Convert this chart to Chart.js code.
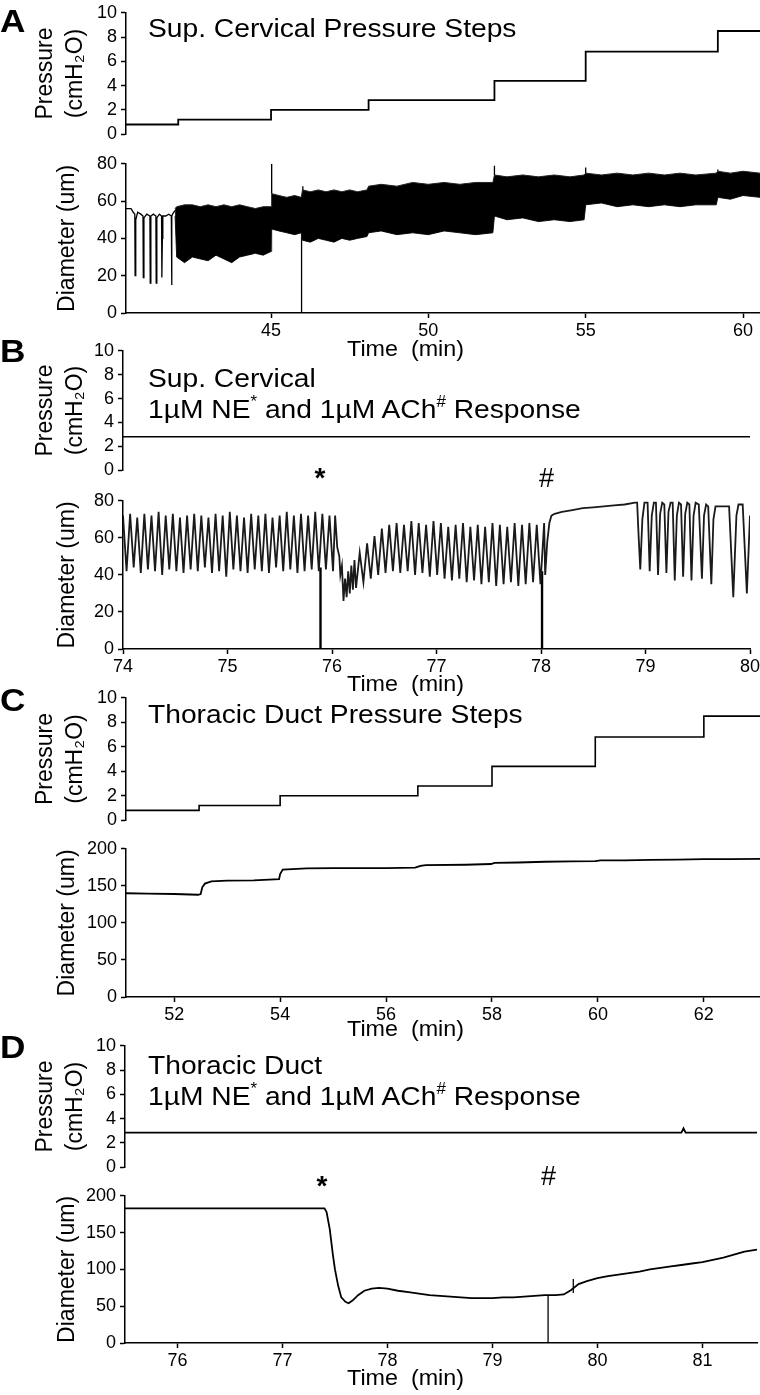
<!DOCTYPE html>
<html>
<head>
<meta charset="utf-8">
<script src="https://cdn.jsdelivr.net/npm/chart.js@4.4.1/dist/chart.umd.min.js"></script>
<style>
  html, body { margin: 0; padding: 0; background: #fff; }
  body { width: 760px; height: 1395px; position: relative; overflow: hidden;
         font-family: "Liberation Sans", Arial, sans-serif; color: #000; }
  .cv { position: absolute; left: 0; }
  .txt { position: absolute; white-space: nowrap; line-height: 1; transform-origin: 0 0; z-index: 5; }
  .txt sup { font-size: 0.6em; vertical-align: 0.7em; line-height: 0; }
</style>
</head>
<body>
<script>
const FONT = "'Liberation Sans', Arial, sans-serif";

// ---- A: superior cervical, pressure steps ----
const aPressTime  = [40.39, 42.05, 45.0, 48.1, 52.1, 55.0, 59.2, 60.54];
const aPressValue = [0.8, 1.2, 2.0, 2.8, 4.4, 6.8, 8.5, 8.5];

// first part of the trace, before the band gets dense
const aDiamTime  = [40.39, 40.55, 40.62, 40.67, 40.68, 40.7, 40.76, 40.86, 40.93, 40.94, 40.96, 41.05, 41.15, 41.16, 41.18, 41.26,
                    41.34, 41.35, 41.37, 41.45, 41.52, 41.53, 41.545, 41.56, 41.65, 41.75, 41.83, 41.84, 41.85, 41.87, 41.95];
const aDiamValue = [56, 56, 54, 53, 20, 50, 54, 53, 52, 19, 51, 53, 52, 16, 52, 53,
                    52, 16, 51, 53, 52, 19, 40, 52, 52, 53, 52, 15, 52, 53, 55];

// dense contractions: upper / lower envelope of the band
const aBandTime   = [41.95, 42.0, 42.25, 42.5, 42.75, 43.0, 43.25, 43.5, 43.75, 44.0, 44.25, 44.5, 44.75, 45.0, 45.02, 45.25, 45.5, 45.75, 45.96,
                     46.0, 46.25, 46.5, 46.75, 47.0, 47.25, 47.5, 47.75, 48.05, 48.1, 48.5, 49.0, 49.5, 50.0, 50.5, 51.0, 51.5, 52.05,
                     52.1, 52.5, 53.0, 53.5, 54.0, 54.5, 54.95, 55.0, 55.5, 56.0, 56.5, 57.0, 57.5, 58.0, 58.5, 59.15, 59.2, 59.6, 60.0, 60.54];
const aBandTop    = [56, 57, 58, 58, 57, 58, 57, 58, 57, 58, 57, 56, 57, 57, 64, 63, 62, 63, 62,
                     66, 65, 66, 65, 66, 65, 66, 65, 66, 68, 69, 68, 70, 69, 70, 69, 70, 70,
                     74, 73, 74, 73, 74, 73, 74, 75, 74, 75, 74, 75, 74, 75, 74, 75, 76, 75, 76, 75];
const aBandBottom = [52, 30, 27, 30, 29, 28, 31, 29, 27, 30, 31, 32, 31, 33, 45, 44, 43, 42, 43,
                     39, 38, 40, 39, 38, 40, 39, 40, 41, 43, 44, 42, 43, 42, 44, 43, 42, 43,
                     52, 50, 51, 49, 50, 49, 50, 58, 59, 57, 58, 57, 58, 57, 58, 58, 62, 61, 63, 62];

const aSpikeTime = [45.02, 45.97, 46.01, 52.1, 55.0, 59.2];
const aSpikeFrom = [64, 43, 64, 74, 75, 76];
const aSpikeTo   = [80, 0, 68, 79, 78, 77];

// ---- B: superior cervical, NE and ACh ----
const bPressTime  = [74, 80];
const bPressValue = [2.8, 2.8];

const bOsc1Peaks   = [72, 73, 71, 73, 72, 74, 72, 73, 71, 72, 73, 72, 71, 73, 72, 74, 72, 71, 73, 72, 73, 71, 72, 74, 72, 73, 72, 74, 73, 72];
const bOsc1Troughs = [42, 44, 41, 43, 42, 40, 43, 42, 41, 43, 42, 44, 41, 42, 39, 43, 42, 41, 43, 42, 41, 44, 42, 43, 41, 42, 43, 42, 43, 42];

const bDipTime  = [76.03, 76.05, 76.07, 76.08, 76.095, 76.11, 76.125, 76.14, 76.155, 76.17, 76.185, 76.2, 76.215];
const bDipValue = [72, 55, 50, 40, 45, 26, 38, 28, 42, 30, 45, 32, 48];

const bOsc2Peaks   = [52, 57, 61, 65, 67, 68, 67, 69, 68, 67, 69, 68, 66, 67, 68, 66, 67, 66, 68, 67, 66, 68, 67, 68, 67, 68];
const bOsc2Troughs = [33, 36, 38, 40, 41, 42, 41, 42, 40, 41, 39, 40, 38, 37, 38, 36, 37, 35, 36, 34, 35, 36, 34, 35, 36, 35];

const bAchTime  = [78.04, 78.06, 78.08, 78.1, 78.13, 78.2, 78.3, 78.4, 78.5, 78.6, 78.7, 78.8, 78.9];
const bAchValue = [40, 58, 68, 72, 73, 74, 75, 76, 76.5, 77, 77.5, 78, 79];

const bEndTime  = [78.92, 78.935, 78.95, 78.97, 78.99, 79.02, 79.04, 79.06, 79.08, 79.1, 79.12, 79.14, 79.16, 79.18, 79.2, 79.22,
                   79.24, 79.26, 79.28, 79.3, 79.32, 79.34, 79.36, 79.38, 79.4, 79.42, 79.44, 79.46, 79.48, 79.51, 79.54, 79.56,
                   79.58, 79.6, 79.63, 79.65, 79.67, 79.8, 79.84, 79.87, 79.89, 79.93, 79.97, 80.0];
const bEndValue = [79, 60, 43, 70, 79, 79, 42, 72, 79, 79, 40, 73, 79, 78, 41, 74,
                   79, 79, 37, 72, 79, 78, 39, 73, 79, 78, 37, 72, 79, 78, 38, 72,
                   78, 77, 35, 70, 77, 77, 28, 72, 78, 78, 30, 72];

const bSpikeTime = [75.89, 78.01];
const bSpikeFrom = [44, 42];
const bSpikeTo   = [0, 0];

// ---- C: thoracic duct, pressure steps ----
const cPressTime  = [51.09, 52.47, 54.0, 56.6, 58.0, 59.95, 62.0, 63.06];
const cPressValue = [0.8, 1.2, 2.0, 2.8, 4.4, 6.8, 8.5, 8.5];

const cDiamTime  = [51.09, 51.5, 52.0, 52.45, 52.5, 52.53, 52.58, 52.7, 53.0, 53.5, 53.98, 54.0, 54.05, 54.5, 55.0, 55.5, 56.0,
                    56.55, 56.65, 56.75, 57.5, 57.98, 58.05, 58.5, 59.0, 59.5, 59.95, 60.05, 60.5, 61.0, 61.5, 62.0, 62.5, 63.06];
const cDiamValue = [140, 139.5, 139, 138, 139, 148, 153, 156, 157, 157.5, 159, 166, 172, 173.5, 174, 174, 174,
                    174.5, 177, 178, 178.5, 179.5, 181, 181.5, 182.5, 183, 183.5, 184.5, 184.5, 185, 185.5, 186, 186, 186.5];

// ---- D: thoracic duct, NE and ACh ----
const dPressTime  = [75.5, 80.8, 80.82, 80.84, 81.52];
const dPressValue = [2.85, 2.85, 3.2, 2.85, 2.85];

const dDiamTime  = [75.5, 77.4, 77.42, 77.45, 77.48, 77.5, 77.53, 77.56, 77.6, 77.63, 77.67, 77.72, 77.78, 77.85, 77.92, 78.0, 78.1, 78.2,
                    78.3, 78.4, 78.5, 78.6, 78.7, 78.8, 78.9, 79.0, 79.1, 79.2, 79.3, 79.4, 79.5, 79.6, 79.68, 79.75, 79.82, 79.9,
                    80.0, 80.1, 80.2, 80.3, 80.4, 80.5, 80.6, 80.7, 80.8, 80.9, 81.0, 81.1, 81.2, 81.3, 81.4, 81.52];
const dDiamValue = [183, 183, 178, 155, 120, 100, 78, 62, 56, 54, 58, 65, 71, 74, 75, 74, 71, 69,
                    67, 65, 64, 63, 62, 61, 61, 61, 62, 62, 63, 64, 65, 65, 66, 72, 80, 84,
                    88, 91, 93, 95, 97, 100, 102, 104, 106, 108, 110, 113, 116, 120, 124, 127];

const dSpikeTime = [79.53, 79.77];
const dSpikeFrom = [65, 68];
const dSpikeTo   = [0, 87];

const PRESS_TITLE = ['Pressure', '(cmH\u2082O)'];
const DIAM_TITLE = 'Diameter (um)';

// helpers
function pairs(ts, vs) { return ts.map((t, i) => ({ x: t, y: vs[i] })); }
function interleave(a, b) { const out = []; a.forEach((v, i) => out.push(v, b[i])); return out; }
// evenly spaced samples between two times
function spread(t0, t1, vals) {
    const n = vals.length;
    return vals.map((v, i) => ({ x: t0 + (t1 - t0) * i / (n - 1), y: v }));
}
function spikes(ts, from, to) {
    const out = [];
    ts.forEach((t, i) => out.push({ x: t, y: from[i] }, { x: t, y: to[i] }, { x: t, y: null }));
    return out;
}

Chart.defaults.font.family = FONT;
Chart.defaults.color = '#000';

const axisBorder = { display: true, color: '#000', width: 1.5 };
const axisGrid = { display: true, drawOnChartArea: false, drawTicks: true, tickLength: 5, tickWidth: 1.5, tickColor: '#000', color: '#000' };

function drawPanel(p) {
    const hasX = !!p.showX;
    const padTop = 12, padBottom = hasX ? 0 : 12, xAxisH = hasX ? 45 : 0;
    const cv = document.createElement('canvas');
    cv.className = 'cv';
    cv.width = 800;
    cv.height = padTop + p.areaH + xAxisH + padBottom;
    cv.style.top = (p.areaTop - padTop) + 'px';
    document.body.appendChild(cv);
    return new Chart(cv, {
        type: 'line',
        data: { datasets: p.datasets },
        options: {
            responsive: false,
            animation: false,
            events: [],
            devicePixelRatio: 1,
            layout: { padding: { left: 0, right: 800 - p.areaRight, top: padTop, bottom: padBottom } },
            plugins: { legend: { display: false }, tooltip: { enabled: false } },
            elements: {
                point: { radius: 0 },
                line: { tension: 0, borderColor: '#000', borderWidth: 1.3 }
            },
            scales: {
                x: {
                    type: 'linear', min: p.xMin, max: p.xMax, display: hasX,
                    afterFit: s => { s.height = xAxisH; },
                    border: axisBorder, grid: axisGrid,
                    ticks: { stepSize: p.xStep, includeBounds: false, autoSkip: false, maxRotation: 0, padding: 2, font: { size: 18 } }
                },
                y: {
                    type: 'linear', min: 0, max: p.yMax,
                    afterFit: s => { s.width = p.areaLeft; },
                    border: axisBorder, grid: axisGrid,
                    ticks: { stepSize: p.yStep, includeBounds: false, padding: 4, font: { size: 18 } },
                    title: {
                        display: true, text: p.yTitle, color: '#000',
                        font: { size: 23, lineHeight: 1.3 },
                        padding: { top: p.titlePad, bottom: 0 }
                    }
                }
            }
        }
    });
}

// B trace: regular contractions, NE dip, contractions, ACh dilation, late contractions
const bTrace = [].concat(
    spread(74.0, 76.01, interleave(bOsc1Peaks, bOsc1Troughs)),
    pairs(bDipTime, bDipValue),
    spread(76.23, 78.03, interleave(bOsc2Troughs, bOsc2Peaks)),
    pairs(bAchTime, bAchValue),
    pairs(bEndTime, bEndValue)
);

// A
drawPanel({ areaTop: 10, areaH: 127, areaLeft: 126, areaRight: 760, xMin: 40.39, xMax: 60.54, xStep: 5,
    yMax: 10, yStep: 2, yTitle: PRESS_TITLE, titlePad: 31,
    datasets: [{ data: pairs(aPressTime, aPressValue), stepped: true, borderWidth: 1.8 }] });
drawPanel({ areaTop: 161, areaH: 152, areaLeft: 126, areaRight: 760, xMin: 40.39, xMax: 60.54, xStep: 5, showX: true,
    yMax: 80, yStep: 20, yTitle: DIAM_TITLE, titlePad: 53,
    datasets: [
        { data: pairs(aDiamTime, aDiamValue), borderWidth: 1.3 },
        { data: pairs(aBandTime, aBandTop), fill: '+1', backgroundColor: '#000', borderWidth: 1, borderColor: '#222' },
        { data: pairs(aBandTime, aBandBottom), borderWidth: 1, borderColor: '#222' },
        { data: spikes(aSpikeTime, aSpikeFrom, aSpikeTo), borderWidth: 1.3 }
    ] });

// B
drawPanel({ areaTop: 348, areaH: 125, areaLeft: 123, areaRight: 750, xMin: 74, xMax: 80, xStep: 1,
    yMax: 10, yStep: 2, yTitle: PRESS_TITLE, titlePad: 31,
    datasets: [{ data: pairs(bPressTime, bPressValue), borderWidth: 1.6 }] });
drawPanel({ areaTop: 498, areaH: 151, areaLeft: 123, areaRight: 750, xMin: 74, xMax: 80, xStep: 1, showX: true,
    yMax: 80, yStep: 20, yTitle: DIAM_TITLE, titlePad: 53,
    datasets: [
        { data: bTrace, borderWidth: 1.8, borderColor: '#1a1a1a' },
        { data: spikes(bSpikeTime, bSpikeFrom, bSpikeTo), borderWidth: 2.4 }
    ] });

// C
drawPanel({ areaTop: 695, areaH: 128, areaLeft: 126, areaRight: 760, xMin: 51.09, xMax: 63.06, xStep: 2,
    yMax: 10, yStep: 2, yTitle: PRESS_TITLE, titlePad: 31,
    datasets: [{ data: pairs(cPressTime, cPressValue), stepped: true, borderWidth: 1.6 }] });
drawPanel({ areaTop: 846, areaH: 151, areaLeft: 126, areaRight: 760, xMin: 51.09, xMax: 63.06, xStep: 2, showX: true,
    yMax: 200, yStep: 50, yTitle: DIAM_TITLE, titlePad: 53,
    datasets: [{ data: pairs(cDiamTime, cDiamValue), borderWidth: 1.8 }] });

// D
drawPanel({ areaTop: 1043, areaH: 127, areaLeft: 125, areaRight: 757, xMin: 75.5, xMax: 81.52, xStep: 1,
    yMax: 10, yStep: 2, yTitle: PRESS_TITLE, titlePad: 31,
    datasets: [{ data: pairs(dPressTime, dPressValue), borderWidth: 1.8 }] });
drawPanel({ areaTop: 1193, areaH: 150, areaLeft: 125, areaRight: 757, xMin: 75.5, xMax: 81.52, xStep: 1, showX: true,
    yMax: 200, yStep: 50, yTitle: DIAM_TITLE, titlePad: 53,
    datasets: [
        { data: pairs(dDiamTime, dDiamValue), borderWidth: 1.8 },
        { data: spikes(dSpikeTime, dSpikeFrom, dSpikeTo), borderWidth: 1.3 }
    ] });

// panel letters, titles, markers (html text): [html, left, baseline, size, bold, scaleX]
const NE_ACH = '1\u00b5M NE<sup>*</sup> and 1\u00b5M ACh<sup>#</sup> Response';
const TIME = 'Time&nbsp;&nbsp;(min)';
const texts = [
    ['A', 0, 32, 32, true, 1.1],
    ['Sup. Cervical Pressure Steps', 148, 37, 26, false, 1.085],
    [TIME, 347, 357, 22, false, 1.06],
    ['B', 0, 362, 32, true, 1.1],
    ['Sup. Cervical', 148, 387, 26, false, 1.085],
    [NE_ACH, 148, 418, 26, false, 1.085],
    ['*', 314.5, 488, 28, true, 1],
    ['#', 539, 488, 27, false, 1],
    [TIME, 347, 692, 22, false, 1.06],
    ['C', 0, 711, 32, true, 1.1],
    ['Thoracic Duct Pressure Steps', 148, 723, 26, false, 1.085],
    [TIME, 347, 1037, 22, false, 1.06],
    ['D', 0, 1058, 32, true, 1.1],
    ['Thoracic Duct', 148, 1074, 26, false, 1.085],
    [NE_ACH, 148, 1105, 26, false, 1.085],
    ['*', 316.5, 1196, 28, true, 1],
    ['#', 541, 1186, 27, false, 1],
    [TIME, 347, 1386, 22, false, 1.06]
];
texts.forEach(([html, left, base, size, bold, sx]) => {
    const el = document.createElement('div');
    el.className = 'txt';
    el.innerHTML = html;
    el.style.left = left + 'px';
    el.style.top = (base - 0.8465 * size) + 'px';
    el.style.fontSize = size + 'px';
    el.style.fontWeight = bold ? 'bold' : 'normal';
    el.style.transform = 'scaleX(' + sx + ')';
    document.body.appendChild(el);
});
</script>
</body>
</html>
